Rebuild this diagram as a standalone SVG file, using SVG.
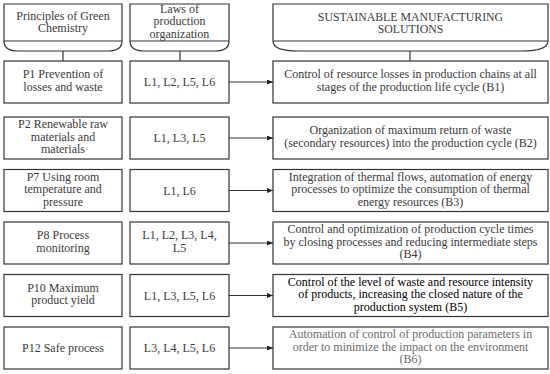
<svg xmlns="http://www.w3.org/2000/svg" width="550" height="374" viewBox="0 0 550 374">
<defs>
<marker id="ah" viewBox="0 0 6 5" refX="6" refY="2.5" markerWidth="6" markerHeight="5" markerUnits="userSpaceOnUse" orient="auto">
<path d="M0,0 L6,2.5 L0,5 Z" fill="#222"/>
</marker>
<style>
.bx{fill:#fff;stroke:#333;stroke-width:1.2}
.ln{fill:none;stroke:#333;stroke-width:1.2}
.ar{fill:none;stroke:#333;stroke-width:1.1;marker-end:url(#ah)}
text{font-family:"Liberation Serif","Times New Roman",serif;font-size:12px;fill:#3a3a3a;text-anchor:middle}
.hd{font-size:11.8px}
.dk{fill:#000}
.lt{fill:#6a6a6a}
</style>
</defs>
<rect width="550" height="374" fill="#fff"/>

<g id="hdr-principles">
<path class="bx" d="M4,4 H122 V41 Q122,51 108,51 H18 Q4,51 4,41 Z"/>
<line class="ln" x1="4" y1="41" x2="122" y2="41"/>
<text x="63" y="19.5">Principles of Green</text>
<text x="63" y="32">Chemistry</text>
</g>
<g id="hdr-laws">
<path class="bx" d="M130,4 H229 V41 Q229,51 215,51 H144 Q130,51 130,41 Z"/>
<line class="ln" x1="130" y1="41" x2="229" y2="41"/>
<text x="179.5" y="12.5">Laws of</text>
<text x="179.5" y="25">production</text>
<text x="179.5" y="37.5">organization</text>
</g>
<g id="hdr-solutions">
<path class="bx" d="M273,4 H548 V41 Q548,51 522,51 H298 Q273,51 273,41 Z"/>
<line class="ln" x1="273" y1="41" x2="548" y2="41"/>
<text class="hd" x="410.5" y="20.5">SUSTAINABLE MANUFACTURING</text>
<text class="hd" x="410.5" y="33">SOLUTIONS</text>
</g>

<g id="p1"><rect class="bx" x="4" y="61" width="118" height="42"/>
<text x="63" y="78.25">P1 Prevention of</text><text x="63" y="90.75">losses and waste</text></g>
<g id="l1"><rect class="bx" x="130" y="61" width="99" height="42"/>
<text x="179.5" y="86">L1, L2, L5, L6</text></g>
<g id="b1"><rect class="bx" x="273" y="61" width="275" height="42"/>
<text x="410.5" y="78.25">Control of resource losses in production chains at all</text>
<text x="410.5" y="90.75">stages of the production life cycle (B1)</text></g>

<g id="p2"><rect class="bx" x="4" y="117" width="118" height="42"/>
<text x="63" y="128">P2 Renewable raw</text><text x="63" y="140.5">materials and</text><text x="63" y="153">materials</text></g>
<g id="l2"><rect class="bx" x="130" y="117" width="99" height="42"/>
<text x="179.5" y="142">L1, L3, L5</text></g>
<g id="b2"><rect class="bx" x="273" y="117" width="275" height="42"/>
<text x="410.5" y="134.25">Organization of maximum return of waste</text>
<text x="410.5" y="146.75">(secondary resources) into the production cycle (B2)</text></g>

<g id="p7"><rect class="bx" x="4" y="169.5" width="118" height="42"/>
<text x="63" y="180.5">P7 Using room</text><text x="63" y="193">temperature and</text><text x="63" y="205.5">pressure</text></g>
<g id="l3"><rect class="bx" x="130" y="169.5" width="99" height="42"/>
<text x="179.5" y="194.5">L1, L6</text></g>
<g id="b3"><rect class="bx" x="273" y="169.5" width="275" height="42"/>
<text x="410.5" y="180.5">Integration of thermal flows, automation of energy</text>
<text x="410.5" y="193">processes to optimize the consumption of thermal</text>
<text x="410.5" y="205.5">energy resources (B3)</text></g>

<g id="p8"><rect class="bx" x="4" y="222" width="118" height="42"/>
<text x="63" y="239.25">P8 Process</text><text x="63" y="251.75">monitoring</text></g>
<g id="l4"><rect class="bx" x="130" y="222" width="99" height="42"/>
<text x="179.5" y="239.25">L1, L2, L3, L4,</text><text x="179.5" y="251.75">L5</text></g>
<g id="b4"><rect class="bx" x="273" y="222" width="275" height="42"/>
<text x="410.5" y="233">Control and optimization of production cycle times</text>
<text x="410.5" y="245.5">by closing processes and reducing intermediate steps</text>
<text x="410.5" y="258">(B4)</text></g>

<g id="p10"><rect class="bx" x="4" y="274.5" width="118" height="42"/>
<text x="63" y="291.75">P10 Maximum</text><text x="63" y="304.25">product yield</text></g>
<g id="l5"><rect class="bx" x="130" y="274.5" width="99" height="42"/>
<text x="179.5" y="299.5">L1, L3, L5, L6</text></g>
<g id="b5"><rect class="bx" x="273" y="274.5" width="275" height="42"/>
<text class="dk" x="410.5" y="285.5">Control of the level of waste and resource intensity</text>
<text class="dk" x="410.5" y="298">of products, increasing the closed nature of the</text>
<text class="dk" x="410.5" y="310.5">production system (B5)</text></g>

<g id="p12"><rect class="bx" x="4" y="327" width="118" height="42"/>
<text x="63" y="352">P12 Safe process</text></g>
<g id="l6"><rect class="bx" x="130" y="327" width="99" height="42"/>
<text x="179.5" y="352">L3, L4, L5, L6</text></g>
<g id="b6"><rect class="bx" x="273" y="327" width="275" height="42"/>
<text class="lt" x="410.5" y="338">Automation of control of production parameters in</text>
<text class="lt" x="410.5" y="350.5">order to minimize the impact on the environment</text>
<text class="lt" x="410.5" y="363">(B6)</text></g>

<g id="connectors">
<line class="ln" x1="63" y1="51" x2="63" y2="61"/>
<line class="ln" x1="180" y1="51" x2="180" y2="61"/>
<line class="ln" x1="410" y1="51" x2="410" y2="61"/>
<line class="ar" x1="229" y1="82" x2="273" y2="82"/>
<line class="ar" x1="229" y1="138" x2="273" y2="138"/>
<line class="ar" x1="229" y1="190.5" x2="273" y2="190.5"/>
<line class="ar" x1="229" y1="243" x2="273" y2="243"/>
<line class="ar" x1="229" y1="295.5" x2="273" y2="295.5"/>
<line class="ar" x1="229" y1="348" x2="273" y2="348"/>
</g>
</svg>
